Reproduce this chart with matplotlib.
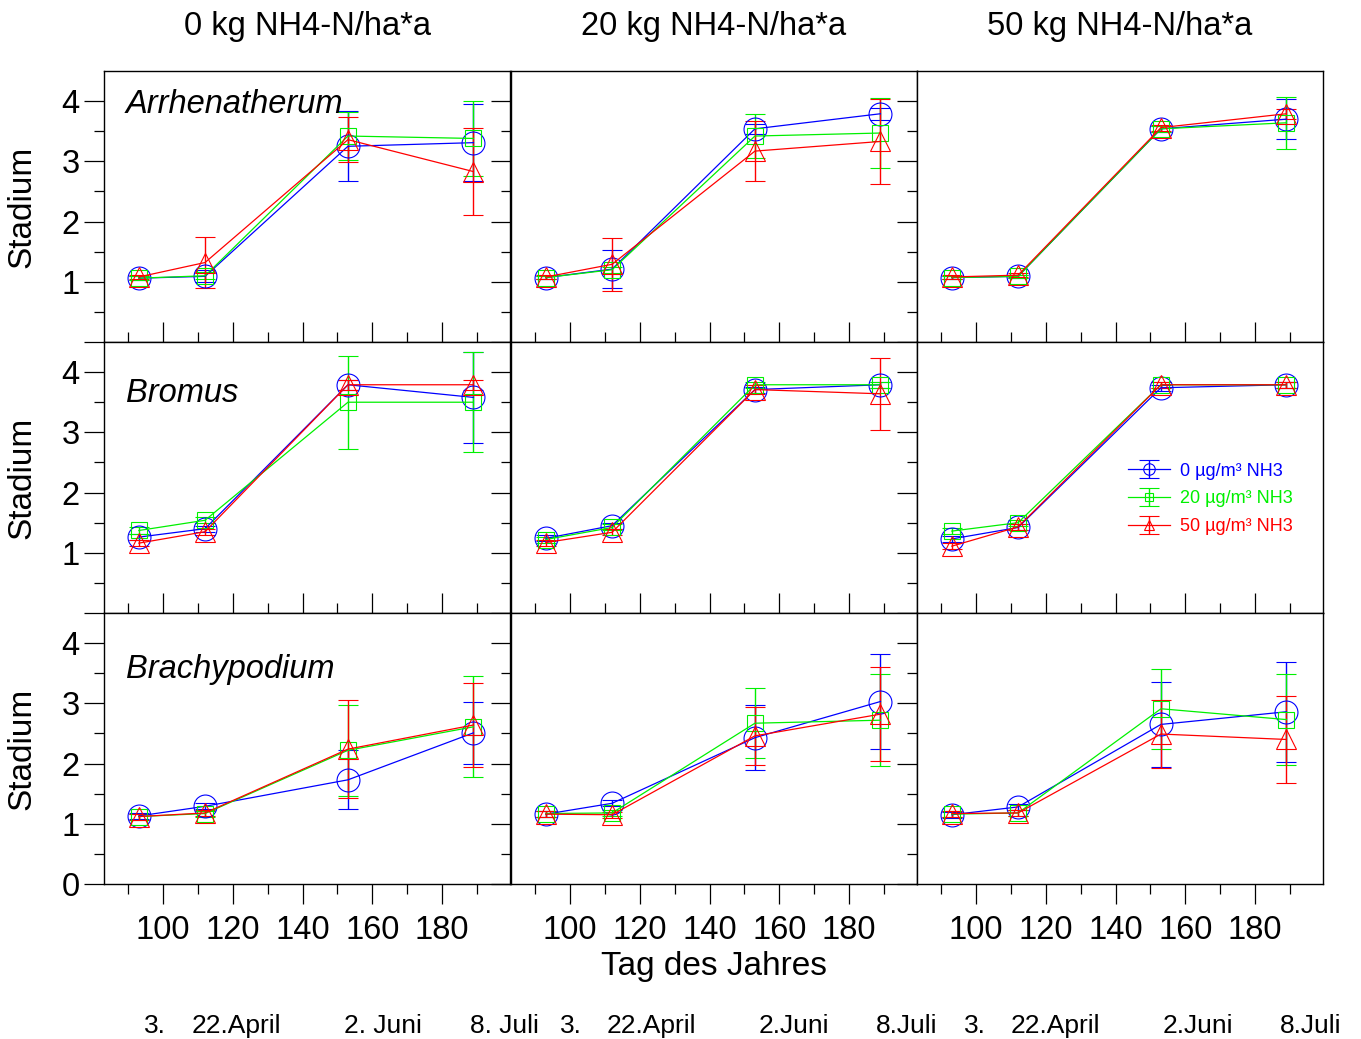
import matplotlib
matplotlib.use("Agg")
import matplotlib.pyplot as plt

plt.rcParams["font.family"] = ["Liberation Sans", "DejaVu Sans"]

# ----------------------------
# Data
# ----------------------------
days = [93, 112, 153, 189]
species = ["Arrhenatherum", "Bromus", "Brachypodium"]
n_levels = ["0 kg NH4-N/ha*a", "20 kg NH4-N/ha*a", "50 kg NH4-N/ha*a"]
nh3_labels = ["0 µg/m³ NH3", "20 µg/m³ NH3", "50 µg/m³ NH3"]

# rows: 0, 20, 50 µg/m³ NH3 ; columns: days
arrh_n0_mean = [[1.06, 1.09, 3.25, 3.31], [1.06, 1.10, 3.42, 3.38], [1.08, 1.32, 3.36, 2.83]]
arrh_n0_err = [[0.03, 0.10, 0.58, 0.64], [0.03, 0.06, 0.40, 0.63], [0.03, 0.42, 0.37, 0.72]]
arrh_n20_mean = [[1.07, 1.21, 3.54, 3.79], [1.07, 1.20, 3.42, 3.47], [1.08, 1.29, 3.17, 3.33]]
arrh_n20_err = [[0.03, 0.32, 0.08, 0.10], [0.03, 0.05, 0.37, 0.58], [0.03, 0.44, 0.50, 0.71]]
arrh_n50_mean = [[1.07, 1.09, 3.54, 3.70], [1.07, 1.09, 3.54, 3.64], [1.08, 1.11, 3.56, 3.79]]
arrh_n50_err = [[0.03, 0.03, 0.05, 0.33], [0.03, 0.03, 0.05, 0.43], [0.03, 0.03, 0.05, 0.08]]

brom_n0_mean = [[1.26, 1.40, 3.79, 3.58], [1.37, 1.54, 3.50, 3.50], [1.16, 1.35, 3.79, 3.79]]
brom_n0_err = [[0.05, 0.05, 0.08, 0.75], [0.05, 0.05, 0.77, 0.83], [0.05, 0.05, 0.08, 0.08]]
brom_n20_mean = [[1.24, 1.45, 3.71, 3.79], [1.22, 1.42, 3.79, 3.79], [1.17, 1.34, 3.71, 3.64]]
brom_n20_err = [[0.05, 0.05, 0.05, 0.05], [0.05, 0.05, 0.05, 0.05], [0.05, 0.05, 0.08, 0.60]]
brom_n50_mean = [[1.23, 1.42, 3.74, 3.79], [1.36, 1.50, 3.79, 3.79], [1.11, 1.43, 3.79, 3.79]]
brom_n50_err = [[0.05, 0.05, 0.05, 0.05], [0.05, 0.05, 0.05, 0.05], [0.05, 0.05, 0.05, 0.05]]

brach_n0_mean = [[1.13, 1.29, 1.73, 2.51], [1.12, 1.17, 2.22, 2.61], [1.12, 1.18, 2.24, 2.64]]
brach_n0_err = [[0.05, 0.05, 0.49, 0.52], [0.05, 0.05, 0.76, 0.84], [0.05, 0.05, 0.81, 0.70]]
brach_n20_mean = [[1.16, 1.34, 2.43, 3.03], [1.17, 1.18, 2.67, 2.72], [1.16, 1.15, 2.46, 2.82]]
brach_n20_err = [[0.05, 0.05, 0.54, 0.79], [0.05, 0.05, 0.58, 0.76], [0.05, 0.05, 0.48, 0.78]]
brach_n50_mean = [[1.15, 1.28, 2.65, 2.86], [1.16, 1.18, 2.91, 2.73], [1.17, 1.18, 2.49, 2.40]]
brach_n50_err = [[0.05, 0.05, 0.71, 0.83], [0.05, 0.05, 0.66, 0.75], [0.05, 0.05, 0.56, 0.73]]

date_labels = [["3.", "22.April", "2. Juni", "8. Juli"],
               ["3.", "22.April", "2.Juni", "8.Juli"],
               ["3.", "22.April", "2.Juni", "8.Juli"]]

panels = [
    [(arrh_n0_mean, arrh_n0_err), (arrh_n20_mean, arrh_n20_err), (arrh_n50_mean, arrh_n50_err)],
    [(brom_n0_mean, brom_n0_err), (brom_n20_mean, brom_n20_err), (brom_n50_mean, brom_n50_err)],
    [(brach_n0_mean, brach_n0_err), (brach_n20_mean, brach_n20_err), (brach_n50_mean, brach_n50_err)],
]

# ----------------------------
# Styles / layout
# ----------------------------
colors = ["#0000ff", "#00f000", "#ff0000"]
markers = ["o", "s", "^"]
msizes = [16.5, 12, 14.5]

W, H = 1361, 1039
col_left = [104, 511, 917]
row_top = [71, 342, 613]
pw, ph = 406, 271
species_y = [0.875, 0.81, 0.79]
date_x = [[155, 236, 383, 504], [571, 651, 794, 907], [975, 1055, 1198, 1311]]
big = 23.5

fig = plt.figure(figsize=(W / 100, H / 100), dpi=100)

for r in range(3):
    for c in range(3):
        ax = fig.add_axes([col_left[c] / W, 1 - (row_top[r] + ph) / H, pw / W, ph / H])
        means, errs = panels[r][c]
        for k in range(3):
            ax.errorbar(days, means[k], yerr=errs[k], color=colors[k], marker=markers[k],
                        mfc="none", mec=colors[k], ms=msizes[k], mew=0.8, lw=0.9,
                        elinewidth=1.0, capsize=7.5, capthick=1.0, label=nh3_labels[k])

        ax.set_xlim(83, 199.5)
        ax.set_ylim(0, 4.5)
        ax.set_xticks([100, 120, 140, 160, 180])
        ax.set_xticks([90, 110, 130, 150, 170, 190], minor=True)
        ax.set_yticks([0, 1, 2, 3, 4])
        ax.set_yticks([0.5, 1.5, 2.5, 3.5], minor=True)
        for sp in ax.spines.values():
            sp.set_linewidth(1.0)

        ax.tick_params(axis="y", which="both", direction="out", left=True, right=False,
                       width=0.9, labelsize=big, pad=3)
        ax.tick_params(axis="y", which="major", length=14.4)
        ax.tick_params(axis="y", which="minor", length=7.2)
        if c == 0:
            if r < 2:
                ax.set_yticklabels(["", "1", "2", "3", "4"])
        else:
            ax.tick_params(axis="y", labelleft=False)

        if r < 2:
            ax.tick_params(axis="x", which="both", direction="in", width=0.9, labelbottom=False)
        else:
            ax.tick_params(axis="x", which="both", direction="out", width=0.9,
                           labelsize=big, pad=8)
        ax.tick_params(axis="x", which="major", length=14.4)
        ax.tick_params(axis="x", which="minor", length=7.2)

        if c == 0:
            ax.text(0.054, species_y[r], species[r], transform=ax.transAxes,
                    fontsize=big, style="italic", va="center", ha="left")
        if r == 1 and c == 2:
            leg = ax.legend(loc="upper left", bbox_to_anchor=(0.48, 0.615), frameon=False,
                            fontsize=13, markerscale=0.5, handlelength=2.3,
                            labelspacing=0.6, handletextpad=0.6)
            for t, col in zip(leg.get_texts(), colors):
                t.set_color(col)

for c in range(3):
    fig.text((col_left[c] + pw / 2) / W, 1 - 27 / H, n_levels[c], fontsize=big,
             ha="center", va="center")
for r in range(3):
    fig.text(22 / W, 1 - (row_top[r] + ph / 2) / H, "Stadium", fontsize=24,
             rotation=90, ha="center", va="center")

fig.text(714 / W, 1 - 966 / H, "Tag des Jahres", fontsize=24, ha="center", va="center")

for c in range(3):
    for lbl, xp in zip(date_labels[c], date_x[c]):
        fig.text(xp / W, 1 - 1026 / H, lbl, fontsize=19, ha="center", va="center")

fig.savefig("out.png", dpi=100)
